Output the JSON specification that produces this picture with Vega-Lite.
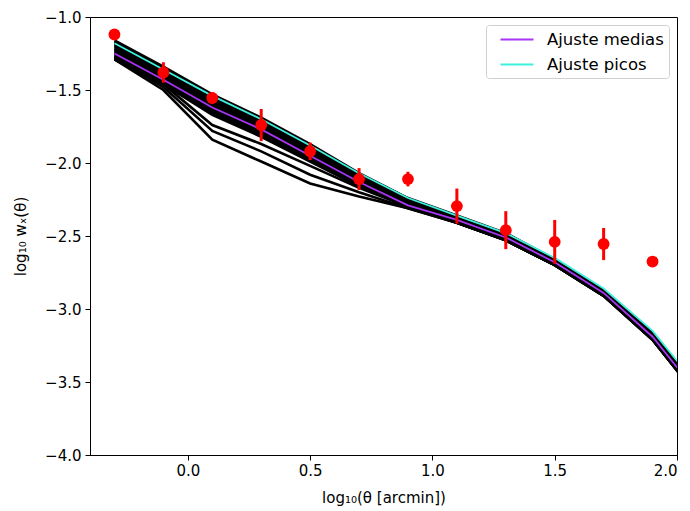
{
  "$schema": "https://vega.github.io/schema/vega-lite/v6.json",
  "width": 587,
  "height": 438,
  "autosize": {"type": "none"},
  "padding": {"left": 90, "top": 17, "right": 13, "bottom": 56},
  "background": "white",
  "config": {
    "font": "DejaVu Sans",
    "view": {"stroke": "black", "strokeWidth": 1},
    "axis": {
      "grid": false,
      "domainColor": "black",
      "tickColor": "black",
      "tickSize": 5,
      "labelColor": "black",
      "labelFontSize": 15,
      "titleFontSize": 15,
      "titleFontWeight": "normal",
      "titleColor": "black",
      "labelFont": "DejaVu Sans",
      "titleFont": "DejaVu Sans"
    },
    "legend": {
      "labelFont": "DejaVu Sans"
    }
  },
  "datasets": {
    "sims": [
      {"run": 1, "x": -0.3, "y": -1.16}, {"run": 1, "x": -0.1, "y": -1.34}, {"run": 1, "x": 0.1, "y": -1.53}, {"run": 1, "x": 0.3, "y": -1.69}, {"run": 1, "x": 0.5, "y": -1.87}, {"run": 1, "x": 0.7, "y": -2.07}, {"run": 1, "x": 0.9, "y": -2.24}, {"run": 1, "x": 1.1, "y": -2.36}, {"run": 1, "x": 1.3, "y": -2.48}, {"run": 1, "x": 1.5, "y": -2.66}, {"run": 1, "x": 1.7, "y": -2.87}, {"run": 1, "x": 1.9, "y": -3.16}, {"run": 1, "x": 2.1, "y": -3.58},
      {"run": 2, "x": -0.3, "y": -1.178}, {"run": 2, "x": -0.1, "y": -1.357}, {"run": 2, "x": 0.1, "y": -1.55}, {"run": 2, "x": 0.3, "y": -1.708}, {"run": 2, "x": 0.5, "y": -1.887}, {"run": 2, "x": 0.7, "y": -2.083}, {"run": 2, "x": 0.9, "y": -2.248}, {"run": 2, "x": 1.1, "y": -2.367}, {"run": 2, "x": 1.3, "y": -2.487}, {"run": 2, "x": 1.5, "y": -2.666}, {"run": 2, "x": 1.7, "y": -2.876}, {"run": 2, "x": 1.9, "y": -3.167}, {"run": 2, "x": 2.1, "y": -3.587},
      {"run": 3, "x": -0.3, "y": -1.198}, {"run": 3, "x": -0.1, "y": -1.375}, {"run": 3, "x": 0.1, "y": -1.571}, {"run": 3, "x": 0.3, "y": -1.728}, {"run": 3, "x": 0.5, "y": -1.905}, {"run": 3, "x": 0.7, "y": -2.096}, {"run": 3, "x": 0.9, "y": -2.257}, {"run": 3, "x": 1.1, "y": -2.375}, {"run": 3, "x": 1.3, "y": -2.495}, {"run": 3, "x": 1.5, "y": -2.672}, {"run": 3, "x": 1.7, "y": -2.882}, {"run": 3, "x": 1.9, "y": -3.175}, {"run": 3, "x": 2.1, "y": -3.595},
      {"run": 4, "x": -0.3, "y": -1.216}, {"run": 4, "x": -0.1, "y": -1.392}, {"run": 4, "x": 0.1, "y": -1.59}, {"run": 4, "x": 0.3, "y": -1.746}, {"run": 4, "x": 0.5, "y": -1.922}, {"run": 4, "x": 0.7, "y": -2.109}, {"run": 4, "x": 0.9, "y": -2.266}, {"run": 4, "x": 1.1, "y": -2.382}, {"run": 4, "x": 1.3, "y": -2.502}, {"run": 4, "x": 1.5, "y": -2.677}, {"run": 4, "x": 1.7, "y": -2.887}, {"run": 4, "x": 1.9, "y": -3.182}, {"run": 4, "x": 2.1, "y": -3.602},
      {"run": 5, "x": -0.3, "y": -1.234}, {"run": 5, "x": -0.1, "y": -1.408}, {"run": 5, "x": 0.1, "y": -1.61}, {"run": 5, "x": 0.3, "y": -1.764}, {"run": 5, "x": 0.5, "y": -1.938}, {"run": 5, "x": 0.7, "y": -2.121}, {"run": 5, "x": 0.9, "y": -2.274}, {"run": 5, "x": 1.1, "y": -2.389}, {"run": 5, "x": 1.3, "y": -2.509}, {"run": 5, "x": 1.5, "y": -2.683}, {"run": 5, "x": 1.7, "y": -2.893}, {"run": 5, "x": 1.9, "y": -3.189}, {"run": 5, "x": 2.1, "y": -3.609},
      {"run": 6, "x": -0.3, "y": -1.252}, {"run": 6, "x": -0.1, "y": -1.425}, {"run": 6, "x": 0.1, "y": -1.629}, {"run": 6, "x": 0.3, "y": -1.782}, {"run": 6, "x": 0.5, "y": -1.955}, {"run": 6, "x": 0.7, "y": -2.134}, {"run": 6, "x": 0.9, "y": -2.283}, {"run": 6, "x": 1.1, "y": -2.396}, {"run": 6, "x": 1.3, "y": -2.516}, {"run": 6, "x": 1.5, "y": -2.688}, {"run": 6, "x": 1.7, "y": -2.898}, {"run": 6, "x": 1.9, "y": -3.196}, {"run": 6, "x": 2.1, "y": -3.616},
      {"run": 7, "x": -0.3, "y": -1.272}, {"run": 7, "x": -0.1, "y": -1.443}, {"run": 7, "x": 0.1, "y": -1.65}, {"run": 7, "x": 0.3, "y": -1.802}, {"run": 7, "x": 0.5, "y": -1.973}, {"run": 7, "x": 0.7, "y": -2.147}, {"run": 7, "x": 0.9, "y": -2.292}, {"run": 7, "x": 1.1, "y": -2.403}, {"run": 7, "x": 1.3, "y": -2.523}, {"run": 7, "x": 1.5, "y": -2.694}, {"run": 7, "x": 1.7, "y": -2.904}, {"run": 7, "x": 1.9, "y": -3.203}, {"run": 7, "x": 2.1, "y": -3.623},
      {"run": 8, "x": -0.3, "y": -1.29}, {"run": 8, "x": -0.1, "y": -1.46}, {"run": 8, "x": 0.1, "y": -1.67}, {"run": 8, "x": 0.3, "y": -1.82}, {"run": 8, "x": 0.5, "y": -1.99}, {"run": 8, "x": 0.7, "y": -2.16}, {"run": 8, "x": 0.9, "y": -2.3}, {"run": 8, "x": 1.1, "y": -2.41}, {"run": 8, "x": 1.3, "y": -2.53}, {"run": 8, "x": 1.5, "y": -2.7}, {"run": 8, "x": 1.7, "y": -2.91}, {"run": 8, "x": 1.9, "y": -3.21}, {"run": 8, "x": 2.1, "y": -3.63},
      {"run": 12, "x": -0.3, "y": -1.168}, {"run": 12, "x": -0.1, "y": -1.35}, {"run": 12, "x": 0.1, "y": -1.54}, {"run": 12, "x": 0.3, "y": -1.7}, {"run": 12, "x": 0.5, "y": -1.878}, {"run": 12, "x": 0.7, "y": -2.076}, {"run": 12, "x": 0.9, "y": -2.244}, {"run": 12, "x": 1.1, "y": -2.364}, {"run": 12, "x": 1.3, "y": -2.484}, {"run": 12, "x": 1.5, "y": -2.663}, {"run": 12, "x": 1.7, "y": -2.873}, {"run": 12, "x": 1.9, "y": -3.164}, {"run": 12, "x": 2.1, "y": -3.584},
      {"run": 13, "x": -0.3, "y": -1.188}, {"run": 13, "x": -0.1, "y": -1.366}, {"run": 13, "x": 0.1, "y": -1.56}, {"run": 13, "x": 0.3, "y": -1.718}, {"run": 13, "x": 0.5, "y": -1.896}, {"run": 13, "x": 0.7, "y": -2.09}, {"run": 13, "x": 0.9, "y": -2.252}, {"run": 13, "x": 1.1, "y": -2.371}, {"run": 13, "x": 1.3, "y": -2.491}, {"run": 13, "x": 1.5, "y": -2.669}, {"run": 13, "x": 1.7, "y": -2.879}, {"run": 13, "x": 1.9, "y": -3.171}, {"run": 13, "x": 2.1, "y": -3.591},
      {"run": 14, "x": -0.3, "y": -1.207}, {"run": 14, "x": -0.1, "y": -1.384}, {"run": 14, "x": 0.1, "y": -1.58}, {"run": 14, "x": 0.3, "y": -1.737}, {"run": 14, "x": 0.5, "y": -1.914}, {"run": 14, "x": 0.7, "y": -2.102}, {"run": 14, "x": 0.9, "y": -2.262}, {"run": 14, "x": 1.1, "y": -2.379}, {"run": 14, "x": 1.3, "y": -2.499}, {"run": 14, "x": 1.5, "y": -2.675}, {"run": 14, "x": 1.7, "y": -2.885}, {"run": 14, "x": 1.9, "y": -3.179}, {"run": 14, "x": 2.1, "y": -3.599},
      {"run": 15, "x": -0.3, "y": -1.225}, {"run": 15, "x": -0.1, "y": -1.4}, {"run": 15, "x": 0.1, "y": -1.6}, {"run": 15, "x": 0.3, "y": -1.755}, {"run": 15, "x": 0.5, "y": -1.93}, {"run": 15, "x": 0.7, "y": -2.115}, {"run": 15, "x": 0.9, "y": -2.27}, {"run": 15, "x": 1.1, "y": -2.386}, {"run": 15, "x": 1.3, "y": -2.506}, {"run": 15, "x": 1.5, "y": -2.68}, {"run": 15, "x": 1.7, "y": -2.89}, {"run": 15, "x": 1.9, "y": -3.186}, {"run": 15, "x": 2.1, "y": -3.606},
      {"run": 16, "x": -0.3, "y": -1.243}, {"run": 16, "x": -0.1, "y": -1.417}, {"run": 16, "x": 0.1, "y": -1.62}, {"run": 16, "x": 0.3, "y": -1.773}, {"run": 16, "x": 0.5, "y": -1.947}, {"run": 16, "x": 0.7, "y": -2.128}, {"run": 16, "x": 0.9, "y": -2.279}, {"run": 16, "x": 1.1, "y": -2.393}, {"run": 16, "x": 1.3, "y": -2.513}, {"run": 16, "x": 1.5, "y": -2.686}, {"run": 16, "x": 1.7, "y": -2.896}, {"run": 16, "x": 1.9, "y": -3.193}, {"run": 16, "x": 2.1, "y": -3.613},
      {"run": 17, "x": -0.3, "y": -1.262}, {"run": 17, "x": -0.1, "y": -1.434}, {"run": 17, "x": 0.1, "y": -1.64}, {"run": 17, "x": 0.3, "y": -1.792}, {"run": 17, "x": 0.5, "y": -1.964}, {"run": 17, "x": 0.7, "y": -2.14}, {"run": 17, "x": 0.9, "y": -2.288}, {"run": 17, "x": 1.1, "y": -2.4}, {"run": 17, "x": 1.3, "y": -2.52}, {"run": 17, "x": 1.5, "y": -2.691}, {"run": 17, "x": 1.7, "y": -2.901}, {"run": 17, "x": 1.9, "y": -3.2}, {"run": 17, "x": 2.1, "y": -3.62},
      {"run": 18, "x": -0.3, "y": -1.281}, {"run": 18, "x": -0.1, "y": -1.452}, {"run": 18, "x": 0.1, "y": -1.66}, {"run": 18, "x": 0.3, "y": -1.811}, {"run": 18, "x": 0.5, "y": -1.982}, {"run": 18, "x": 0.7, "y": -2.154}, {"run": 18, "x": 0.9, "y": -2.296}, {"run": 18, "x": 1.1, "y": -2.407}, {"run": 18, "x": 1.3, "y": -2.527}, {"run": 18, "x": 1.5, "y": -2.697}, {"run": 18, "x": 1.7, "y": -2.907}, {"run": 18, "x": 1.9, "y": -3.207}, {"run": 18, "x": 2.1, "y": -3.627},
      {"run": 9, "x": -0.3, "y": -1.27}, {"run": 9, "x": -0.1, "y": -1.46}, {"run": 9, "x": 0.1, "y": -1.74}, {"run": 9, "x": 0.3, "y": -1.87}, {"run": 9, "x": 0.5, "y": -2.02}, {"run": 9, "x": 0.7, "y": -2.17}, {"run": 9, "x": 0.9, "y": -2.3}, {"run": 9, "x": 1.1, "y": -2.41}, {"run": 9, "x": 1.3, "y": -2.53}, {"run": 9, "x": 1.5, "y": -2.7}, {"run": 9, "x": 1.7, "y": -2.91}, {"run": 9, "x": 1.9, "y": -3.21}, {"run": 9, "x": 2.1, "y": -3.63},
      {"run": 10, "x": -0.3, "y": -1.28}, {"run": 10, "x": -0.1, "y": -1.48}, {"run": 10, "x": 0.1, "y": -1.78}, {"run": 10, "x": 0.3, "y": -1.92}, {"run": 10, "x": 0.5, "y": -2.08}, {"run": 10, "x": 0.7, "y": -2.2}, {"run": 10, "x": 0.9, "y": -2.31}, {"run": 10, "x": 1.1, "y": -2.41}, {"run": 10, "x": 1.3, "y": -2.53}, {"run": 10, "x": 1.5, "y": -2.7}, {"run": 10, "x": 1.7, "y": -2.91}, {"run": 10, "x": 1.9, "y": -3.21}, {"run": 10, "x": 2.1, "y": -3.63},
      {"run": 11, "x": -0.3, "y": -1.29}, {"run": 11, "x": -0.1, "y": -1.5}, {"run": 11, "x": 0.1, "y": -1.84}, {"run": 11, "x": 0.3, "y": -1.99}, {"run": 11, "x": 0.5, "y": -2.14}, {"run": 11, "x": 0.7, "y": -2.23}, {"run": 11, "x": 0.9, "y": -2.31}, {"run": 11, "x": 1.1, "y": -2.41}, {"run": 11, "x": 1.3, "y": -2.53}, {"run": 11, "x": 1.5, "y": -2.7}, {"run": 11, "x": 1.7, "y": -2.91}, {"run": 11, "x": 1.9, "y": -3.21}, {"run": 11, "x": 2.1, "y": -3.63}
    ],
    "fits": [
      {"fit": "Ajuste picos", "x": -0.3, "y": -1.18}, {"fit": "Ajuste picos", "x": -0.1, "y": -1.36}, {"fit": "Ajuste picos", "x": 0.1, "y": -1.54}, {"fit": "Ajuste picos", "x": 0.3, "y": -1.7}, {"fit": "Ajuste picos", "x": 0.5, "y": -1.88}, {"fit": "Ajuste picos", "x": 0.7, "y": -2.07}, {"fit": "Ajuste picos", "x": 0.9, "y": -2.24}, {"fit": "Ajuste picos", "x": 1.1, "y": -2.36}, {"fit": "Ajuste picos", "x": 1.3, "y": -2.48}, {"fit": "Ajuste picos", "x": 1.5, "y": -2.65}, {"fit": "Ajuste picos", "x": 1.7, "y": -2.86}, {"fit": "Ajuste picos", "x": 1.9, "y": -3.15}, {"fit": "Ajuste picos", "x": 2.1, "y": -3.56},
      {"fit": "Ajuste medias", "x": -0.3, "y": -1.25}, {"fit": "Ajuste medias", "x": -0.1, "y": -1.43}, {"fit": "Ajuste medias", "x": 0.1, "y": -1.62}, {"fit": "Ajuste medias", "x": 0.3, "y": -1.77}, {"fit": "Ajuste medias", "x": 0.5, "y": -1.95}, {"fit": "Ajuste medias", "x": 0.7, "y": -2.13}, {"fit": "Ajuste medias", "x": 0.9, "y": -2.29}, {"fit": "Ajuste medias", "x": 1.1, "y": -2.39}, {"fit": "Ajuste medias", "x": 1.3, "y": -2.51}, {"fit": "Ajuste medias", "x": 1.5, "y": -2.68}, {"fit": "Ajuste medias", "x": 1.7, "y": -2.89}, {"fit": "Ajuste medias", "x": 1.9, "y": -3.19}, {"fit": "Ajuste medias", "x": 2.1, "y": -3.61}
    ],
    "obs": [
      {"x": -0.3, "y": -1.12, "lo": -1.14, "hi": -1.1},
      {"x": -0.1, "y": -1.38, "lo": -1.45, "hi": -1.31},
      {"x": 0.1, "y": -1.555, "lo": -1.595, "hi": -1.515},
      {"x": 0.3, "y": -1.74, "lo": -1.85, "hi": -1.63},
      {"x": 0.5, "y": -1.92, "lo": -1.98, "hi": -1.86},
      {"x": 0.7, "y": -2.11, "lo": -2.185, "hi": -2.035},
      {"x": 0.9, "y": -2.11, "lo": -2.16, "hi": -2.06},
      {"x": 1.1, "y": -2.295, "lo": -2.415, "hi": -2.175},
      {"x": 1.3, "y": -2.46, "lo": -2.59, "hi": -2.33},
      {"x": 1.5, "y": -2.54, "lo": -2.69, "hi": -2.39},
      {"x": 1.7, "y": -2.555, "lo": -2.665, "hi": -2.445},
      {"x": 1.9, "y": -2.675, "lo": -2.685, "hi": -2.665}
    ]
  },
  "encoding": {
    "x": {
      "field": "x", "type": "quantitative",
      "scale": {"domain": [-0.4, 2.0], "nice": false, "zero": false},
      "axis": {"values": [0, 0.5, 1, 1.5, 2], "labelExpr": "replace(format(datum.value, '.1f'), '-', '−')", "title": "log₁₀(θ [arcmin])", "titlePadding": 12, "labelPadding": 3}
    },
    "y": {
      "field": "y", "type": "quantitative",
      "scale": {"domain": [-4.0, -1.0], "nice": false, "zero": false},
      "axis": {"values": [-4, -3.5, -3, -2.5, -2, -1.5, -1], "labelExpr": "replace(format(datum.value, '.1f'), '-', '−')", "title": "log₁₀ wₓ(θ)", "titlePadding": 16, "labelPadding": 4}
    }
  },
  "layer": [
    {
      "data": {"name": "sims"},
      "mark": {"type": "line", "color": "black", "strokeWidth": 2.6, "clip": true},
      "encoding": {"detail": {"field": "run", "type": "nominal"}}
    },
    {
      "data": {"name": "fits"},
      "mark": {"type": "line", "strokeWidth": 1.8, "clip": true},
      "encoding": {
        "color": {
          "field": "fit", "type": "nominal",
          "scale": {"domain": ["Ajuste medias", "Ajuste picos"], "range": ["#a834f5", "#3ff0dc"]},
          "legend": {
            "title": null,
            "orient": "top-right",
            "offset": 8,
            "symbolType": "M0,0L4,0",
            "symbolSize": 272,
            "symbolStrokeWidth": 2,
            "labelFontSize": 16.5,
            "labelColor": "black",
            "labelOffset": 37,
            "rowPadding": 7,
            "padding": 5,
            "strokeColor": "#d0d0d0",
            "fillColor": "white",
            "cornerRadius": 3
          }
        }
      }
    },
    {
      "data": {"name": "obs"},
      "mark": {"type": "rule", "color": "red", "strokeWidth": 3},
      "encoding": {
        "y": {"field": "lo", "type": "quantitative"},
        "y2": {"field": "hi"}
      }
    },
    {
      "data": {"name": "obs"},
      "mark": {"type": "circle", "color": "red", "size": 140, "opacity": 1}
    }
  ]
}
